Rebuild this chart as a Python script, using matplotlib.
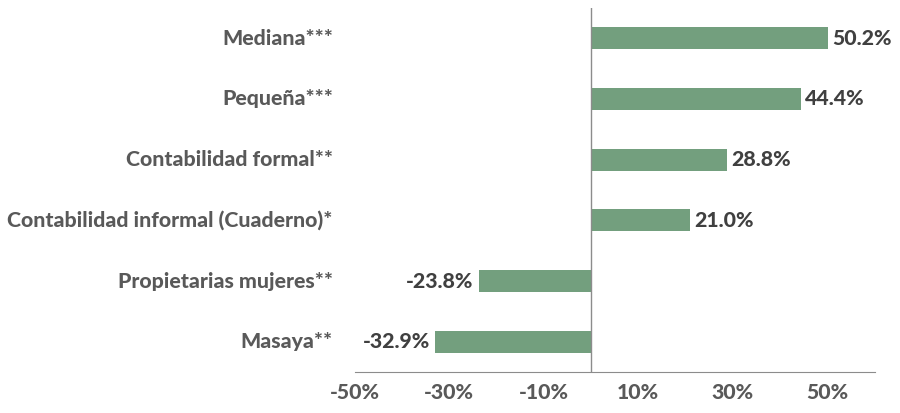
import matplotlib.pyplot as plt

categorias = ["Mediana***", "Pequeña***", "Contabilidad formal**",
              "Contabilidad informal (Cuaderno)*", "Propietarias mujeres**", "Masaya**"]
valores = [50.2, 44.4, 28.8, 21.0, -23.8, -32.9]
ticks = [-50, -30, -10, 10, 30, 50]

plt.rcParams['font.family'] = ['Lato', 'DejaVu Sans']
PESO = "black"

fig = plt.figure(figsize=(9, 4.13), dpi=100)
ax = fig.add_axes([0.394, 0.099, 0.578, 0.882])

y = list(range(len(categorias)))[::-1]
ax.barh(y, valores, height=0.36, color="#739f7e")

for yi, v in zip(y, valores):
    if v >= 0:
        ax.annotate(f"{v:.1f}%", (v, yi), xytext=(3, 0), textcoords="offset points",
                    ha="left", va="center", fontsize=15.3, fontweight=PESO, color="#404040")
    else:
        ax.annotate(f"{v:.1f}%", (v, yi), xytext=(-4, 0), textcoords="offset points",
                    ha="right", va="center", fontsize=15.3, fontweight=PESO, color="#404040")

ax.set_xlim(-50, 60)
ax.set_ylim(-0.5, 5.5)
ax.set_xticks(ticks)
ax.set_xticklabels([f"{t}%" for t in ticks], fontsize=15.3, fontweight=PESO, color="#595959")
ax.set_yticks([])

for i, c in zip(y, categorias):
    ax.text(-0.042, i, c, transform=ax.get_yaxis_transform(), ha="right", va="center",
            fontsize=15.3, fontweight=PESO, color="#595959")

ax.spines[["top", "right", "left"]].set_visible(False)
ax.spines["bottom"].set_color("#8c8c8c")
ax.axvline(0, color="#8c8c8c", lw=1)
ax.tick_params(axis="x", length=0, pad=8)

fig.savefig("out.png", dpi=100)
